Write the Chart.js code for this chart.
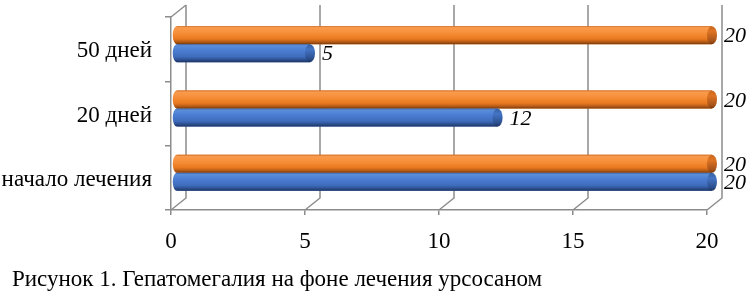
<!DOCTYPE html>
<html><head><meta charset="utf-8">
<script src="https://cdn.jsdelivr.net/npm/chart.js@4/dist/chart.umd.min.js"></script>
<style>
html,body{margin:0;padding:0;background:#fff;}
#wrap{position:relative;width:747px;height:294px;overflow:hidden;}
#c{position:absolute;left:0;top:0;}
#cap{position:absolute;left:12px;top:267px;font:23px 'Liberation Serif','Times New Roman',serif;color:#000;white-space:nowrap;line-height:1;}
</style></head><body>
<div id="wrap"><canvas id="c" width="747" height="294"></canvas><div id="cap"></div></div>
<script>
// ---- data ----
const categories = ['50 дней', '20 дней', 'начало лечения'];
const orangeValues = [20, 20, 20];
const blueValues = [5, 12, 20];
const xTicks = [0, 5, 10, 15, 20];
const captionText = 'Рисунок 1. Гепатомегалия на фоне лечения урсосаном';

document.getElementById('cap').textContent = captionText;

const GRID = '#8c8c8c';
const WALL_DX = 15, WALL_DY = 12;   // back wall offset (3D depth)
const BAR_DX = 5, BAR_DY = -5;      // bars sit at mid depth
const FONT = "'Liberation Serif', 'Times New Roman', serif";

function makeGrad(ctx, y0, y1, stops) {
  const g = ctx.createLinearGradient(0, y0, 0, y1);
  stops.forEach(s => g.addColorStop(s[0], s[1]));
  return g;
}
const orangeBody = [[0,'#c9671f'],[0.08,'#f99b4e'],[0.35,'#f7903b'],[0.7,'#ea7a20'],[0.87,'#b95c17'],[1,'#7a3a0c']];
const blueBody = [[0,'#36609f'],[0.08,'#5b8edb'],[0.35,'#4b7dd2'],[0.7,'#3f6cbc'],[0.87,'#2c4f8f'],[1,'#1c3460']];
const orangeCap = [[0,'#c9671f'],[0.3,'#de7423'],[0.8,'#a9541a'],[1,'#7a3a0c']];
const blueCap = [[0,'#36609f'],[0.3,'#4474c4'],[0.8,'#2c4f8f'],[1,'#1c3460']];

function cylinder(ctx, x0, x1, yc, h, body, cap) {
  const ry = h / 2, rxL = 4, rxR = 5;
  ctx.beginPath();
  ctx.moveTo(x1, yc - ry);
  ctx.lineTo(x0, yc - ry);
  ctx.ellipse(x0, yc, rxL, ry, 0, -Math.PI / 2, Math.PI / 2, true);
  ctx.lineTo(x1, yc + ry);
  ctx.closePath();
  ctx.fillStyle = makeGrad(ctx, yc - ry, yc + ry, body);
  ctx.fill();
  ctx.beginPath();
  ctx.ellipse(x1, yc, rxR, ry, 0, 0, Math.PI * 2);
  ctx.fillStyle = makeGrad(ctx, yc - ry, yc + ry, cap);
  ctx.fill();
}

const frame3d = {
  id: 'frame3d',
  beforeDatasetsDraw(chart) {
    const { ctx, chartArea: a, scales: { x } } = chart;
    ctx.save();
    ctx.strokeStyle = GRID; ctx.lineWidth = 1.5;
    xTicks.forEach(v => {
      const p = x.getPixelForValue(v);
      ctx.beginPath();
      ctx.moveTo(p + WALL_DX, a.top - WALL_DY);
      ctx.lineTo(p + WALL_DX, a.bottom - WALL_DY);
      ctx.lineTo(p, a.bottom);
      ctx.stroke();
    });
    const p0 = x.getPixelForValue(0);
    ctx.beginPath();
    ctx.moveTo(p0, a.top);
    ctx.lineTo(p0 + WALL_DX, a.top - WALL_DY);
    ctx.stroke();
    ctx.restore();
    ctx.save();
    ctx.translate(BAR_DX, BAR_DY);
  },
  afterDatasetsDraw(chart) {
    const ctx = chart.ctx;
    chart.data.datasets.forEach((ds, di) => {
      const meta = chart.getDatasetMeta(di);
      meta.data.forEach((el, i) => {
        const body = di === 0 ? orangeBody : blueBody;
        const cap = di === 0 ? orangeCap : blueCap;
        cylinder(ctx, el.base, el.x, el.y, el.height, body, cap);
      });
    });
    chart.data.datasets.forEach((ds, di) => {
      const meta = chart.getDatasetMeta(di);
      meta.data.forEach((el, i) => {
        ctx.font = 'italic 22px ' + FONT;
        ctx.fillStyle = '#000';
        ctx.textAlign = 'left';
        ctx.textBaseline = 'middle';
        ctx.fillText(String(ds.data[i]), el.x + 12, el.y + 1.5);
      });
    });
    ctx.restore();
  }
};

new Chart(document.getElementById('c'), {
  type: 'bar',
  data: {
    labels: categories,
    datasets: [
      { label: 'orange', data: orangeValues, backgroundColor: '#f5862a', borderWidth: 0, clip: false },
      { label: 'blue', data: blueValues, backgroundColor: '#4472c4', borderWidth: 0, clip: false }
    ]
  },
  options: {
    indexAxis: 'y',
    responsive: false,
    animation: false,
    devicePixelRatio: 1,
    categoryPercentage: 0.56,
    barPercentage: 1,
    layout: { padding: { top: 17, right: 40, left: 0, bottom: 0 } },
    plugins: { legend: { display: false }, tooltip: { enabled: false }, title: { display: false } },
    scales: {
      x: {
        type: 'linear', min: 0, max: 20,
        afterBuildTicks: s => { s.ticks = xTicks.map(v => ({ value: v })); },
        afterFit: s => { s.height = 84; s.paddingLeft = 0; s.paddingRight = 0; },
        ticks: { stepSize: 5, color: '#000', font: { family: FONT, size: 23 }, padding: 13, maxRotation: 0 },
        grid: { drawOnChartArea: false, tickLength: 5, color: GRID, lineWidth: 1.5 },
        border: { display: true, color: GRID, width: 1.5 }
      },
      y: {
        type: 'category',
        afterFit: s => { s.width = 171; s.paddingTop = 0; s.paddingBottom = 0; },
        ticks: { color: '#000', font: { family: FONT, size: 23 }, padding: 13, labelOffset: 2 },
        grid: { drawOnChartArea: false, tickLength: 6, offset: true, color: GRID, lineWidth: 1.5 },
        border: { display: true, color: GRID, width: 1.5 }
      }
    }
  },
  plugins: [frame3d]
});
</script>
</body></html>
